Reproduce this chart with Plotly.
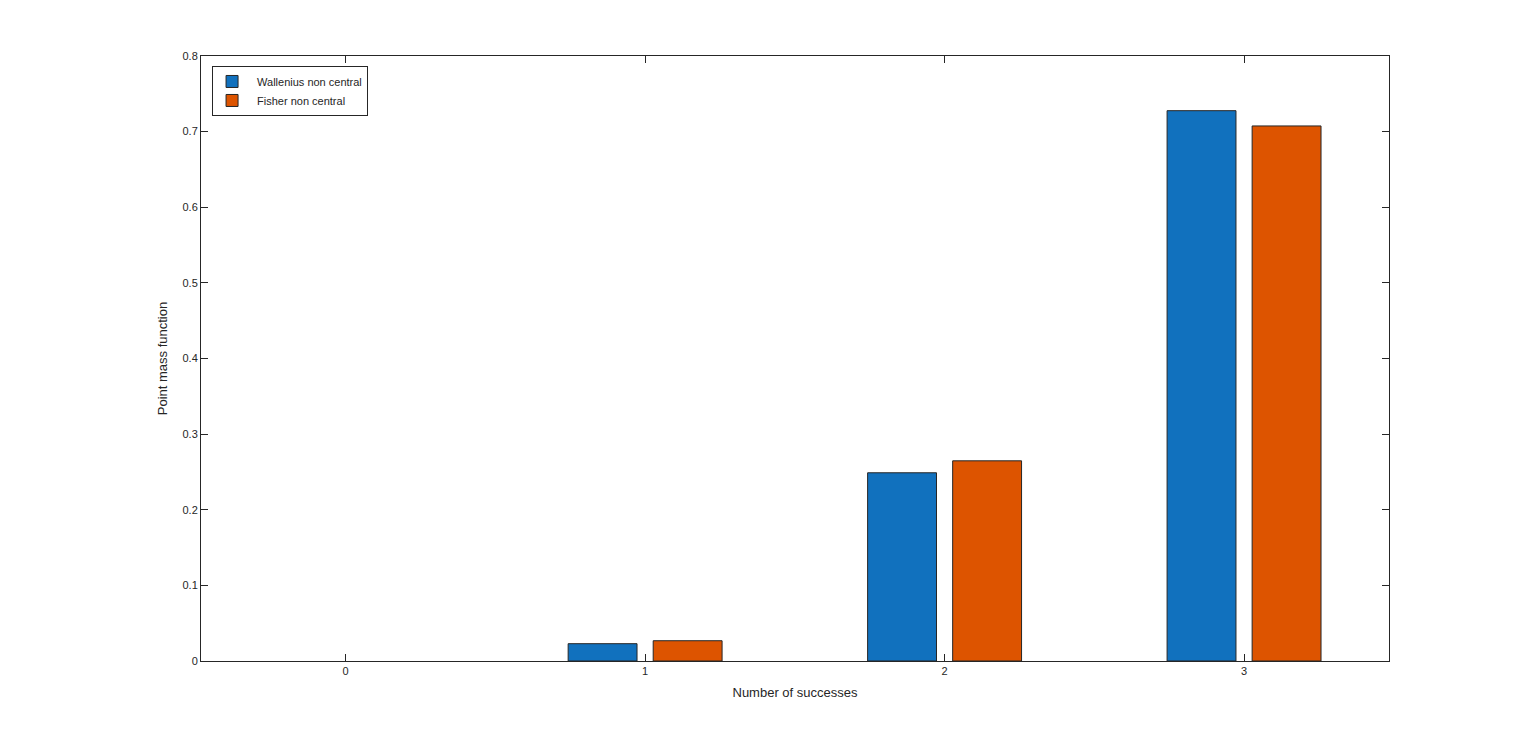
import plotly.graph_objects as go

# data
successes = [0, 1, 2, 3]
wallenius = [0.0, 0.0229, 0.2489, 0.7277]
fisher = [0.0, 0.0268, 0.2647, 0.7075]
y_ticks = [0, 0.1, 0.2, 0.3, 0.4, 0.5, 0.6, 0.7, 0.8]

fig = go.Figure()
# empty bars are skipped, otherwise a stray outline shows at 0
fig.add_trace(go.Bar(x=successes, y=[v if v > 0 else None for v in wallenius],
                     name='Wallenius non central', width=0.23, offset=-0.257,
                     marker=dict(color='#1171BE', line=dict(color='#262626', width=1))))
fig.add_trace(go.Bar(x=successes, y=[v if v > 0 else None for v in fisher],
                     name='Fisher non central', width=0.23, offset=0.027,
                     marker=dict(color='#DD5400', line=dict(color='#262626', width=1))))

axis_style = dict(showline=True, linecolor='#262626', linewidth=1, mirror='ticks',
                  ticks='inside', ticklen=7, tickcolor='#262626', showgrid=False,
                  zeroline=False, tickfont=dict(size=11, color='#262626'))

fig.update_xaxes(range=[-0.483, 3.484], tickvals=successes,
                 title=dict(text='Number of successes', font=dict(size=13, color='#262626'), standoff=11),
                 **axis_style)
fig.update_yaxes(range=[0, 0.8], tickvals=y_ticks, ticktext=[str(round(v, 1)) if v else '0' for v in y_ticks],
                 title=dict(text='Point mass function', font=dict(size=13, color='#262626'), standoff=11),
                 **axis_style)

# page body adds an 8px margin, so the figure is a bit smaller and shifted
fig.update_layout(
    width=1520, height=728,
    margin=dict(l=193, r=139, t=48, b=75),
    plot_bgcolor='white', paper_bgcolor='white',
    font=dict(family='Liberation Sans, Arial, sans-serif', color='#262626'),
    showlegend=True,
    legend=dict(x=0.0093, y=0.9835, xanchor='left', yanchor='top',
                bgcolor='white', bordercolor='#262626', borderwidth=1,
                font=dict(size=11), tracegroupgap=0, itemwidth=40,
                indentation=-6),
)

fig.write_html("out.html")
